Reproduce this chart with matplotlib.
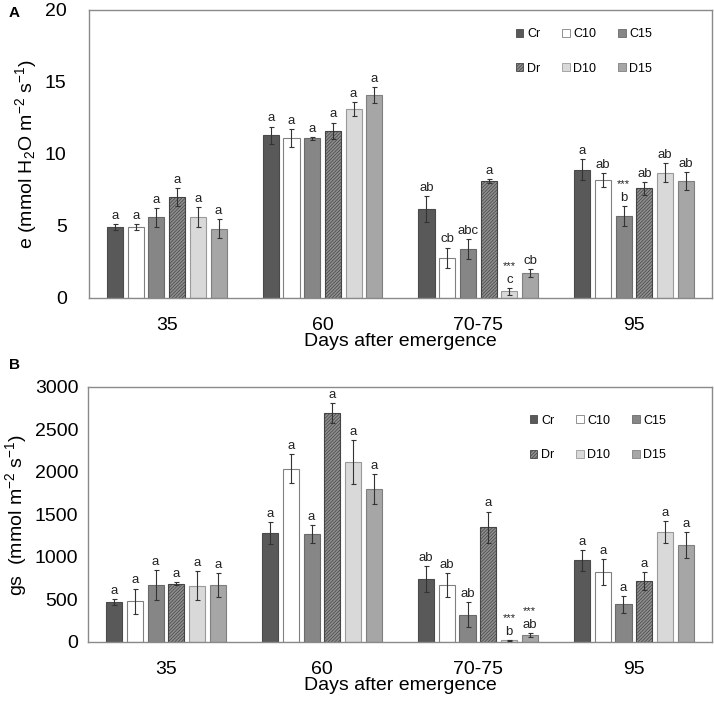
import numpy as np
import matplotlib
matplotlib.use('Agg')
import matplotlib.pyplot as plt
from matplotlib.patches import Patch

plt.rcParams['font.family'] = ['Liberation Sans', 'DejaVu Sans']
plt.rcParams['mathtext.fontset'] = 'custom'
plt.rcParams['mathtext.rm'] = 'Liberation Sans'
plt.rcParams['mathtext.it'] = 'Liberation Sans:italic'
plt.rcParams['hatch.linewidth'] = 0.5

days = ['35', '60', '70-75', '95']
treatments = ['Cr', 'C10', 'C15', 'Dr', 'D10', 'D15']

# rows = treatments, columns = days
e_mean = [[4.9, 11.3, 6.2, 8.9],
          [4.9, 11.1, 2.8, 8.2],
          [5.6, 11.1, 3.4, 5.7],
          [7.0, 11.6, 8.1, 7.6],
          [5.6, 13.1, 0.45, 8.7],
          [4.8, 14.1, 1.7, 8.1]]
e_err = [[0.2, 0.6, 0.9, 0.73],
         [0.2, 0.6, 0.7, 0.49],
         [0.67, 0.1, 0.67, 0.71],
         [0.63, 0.58, 0.15, 0.42],
         [0.7, 0.5, 0.23, 0.64],
         [0.65, 0.56, 0.28, 0.64]]
e_letters = [['a', 'a', 'ab', 'a'],
             ['a', 'a', 'cb', 'ab'],
             ['a', 'a', 'abc', 'b'],
             ['a', 'a', 'a', 'ab'],
             ['a', 'a', 'c', 'ab'],
             ['a', 'a', 'cb', 'ab']]
e_stars = [(4, 2), (2, 3)]

gs_mean = [[470, 1282, 741, 961],
           [478, 2039, 670, 824],
           [670, 1270, 322, 443],
           [686, 2690, 1349, 722],
           [659, 2114, 20, 1294],
           [670, 1796, 82, 1141]]
gs_err = [[35, 125, 150, 125],
          [150, 175, 145, 155],
          [180, 105, 150, 100],
          [20, 120, 185, 105],
          [170, 260, 5, 130],
          [145, 175, 25, 150]]
gs_letters = [['a', 'a', 'ab', 'a'],
              ['a', 'a', 'ab', 'a'],
              ['a', 'a', 'ab', 'a'],
              ['a', 'a', 'a', 'a'],
              ['a', 'a', 'b', 'a'],
              ['a', 'a', 'ab', 'a']]
gs_stars = [(4, 2), (5, 2)]

faces = ['#595959', 'white', '#868686', '#8e8e8e', '#d9d9d9', '#a6a6a6']
edges = ['#4a4a4a', '#808080', '#6a6a6a', '#444444', '#9a9a9a', '#808080']
hatches = [None, None, None, '//////////', None, None]

pitch = 0.133
width = 0.103
x = np.arange(len(days))


def draw_panel(ax, mean, err, letters, stars, ymax, yticks, ylabel, lab_pad):
    for i in range(len(treatments)):
        xi = x + (i - 2.5) * pitch
        ax.bar(xi, mean[i], width, color=faces[i], edgecolor=edges[i],
               linewidth=0.8, hatch=hatches[i], zorder=2)
        ax.errorbar(xi, mean[i], yerr=err[i], fmt='none', ecolor='#333333',
                    elinewidth=0.8, capsize=1.8, capthick=0.8, zorder=3)
        for j in range(len(days)):
            top = mean[i][j] + err[i][j]
            ax.annotate(letters[i][j], (xi[j], top), xytext=(0, 1.5),
                        textcoords='offset points', ha='center', va='bottom',
                        fontsize=9.5, color='#222222')
            if (i, j) in stars:
                ax.annotate('***', (xi[j], top), xytext=(0, 12),
                            textcoords='offset points', ha='center',
                            va='bottom', fontsize=8, color='#222222')
    ax.set_xlim(-0.5, len(days) - 0.5)
    ax.set_ylim(0, ymax)
    ax.set_yticks(yticks)
    ax.set_xticks(x)
    ax.set_xticklabels(days)
    ax.tick_params(axis='both', length=0, labelsize=14)
    ax.tick_params(axis='x', pad=14)
    ax.tick_params(axis='y', pad=lab_pad)
    for s in ax.spines.values():
        s.set_color('#8a8a8a')
        s.set_linewidth(1)
    ax.set_xlabel('Days after emergence', fontsize=14, labelpad=-1)
    ax.set_ylabel(ylabel, fontsize=14)

    handles = [Patch(facecolor=faces[i], edgecolor=edges[i], hatch=hatches[i],
                     linewidth=0.6, label=treatments[i]) for i in range(6)]
    order = [0, 3, 1, 4, 2, 5]
    return [handles[k] for k in order]


fig = plt.figure(figsize=(7.14, 7.06), dpi=100)
axA = fig.add_axes([0.1246, 0.578, 0.8724, 0.408])
axB = fig.add_axes([0.1232, 0.0907, 0.8738, 0.3613])

hA = draw_panel(axA, e_mean, e_err, e_letters, e_stars, 20, [0, 5, 10, 15, 20],
                'e (mmol H$_2$O m$^{-2}$ s$^{-1}$)', 16)
axA.legend(handles=hA, ncol=3, frameon=False, fontsize=9,
           handlelength=0.6, handleheight=0.6, handletextpad=0.3,
           columnspacing=1.75, labelspacing=1.8,
           loc='upper left', bbox_to_anchor=(0.667, 0.975))

hB = draw_panel(axB, gs_mean, gs_err, gs_letters, gs_stars, 3000,
                [0, 500, 1000, 1500, 2000, 2500, 3000],
                'gs  (mmol m$^{-2}$ s$^{-1}$)', 7)
axB.legend(handles=hB, ncol=3, frameon=False, fontsize=9,
           handlelength=0.6, handleheight=0.6, handletextpad=0.3,
           columnspacing=1.75, labelspacing=1.8,
           loc='upper left', bbox_to_anchor=(0.69, 0.935))

fig.text(0.012, 0.981, 'A', fontsize=11, fontweight='bold', va='center')
fig.text(0.012, 0.483, 'B', fontsize=11, fontweight='bold', va='center')

fig.savefig('out.png', dpi=100)
